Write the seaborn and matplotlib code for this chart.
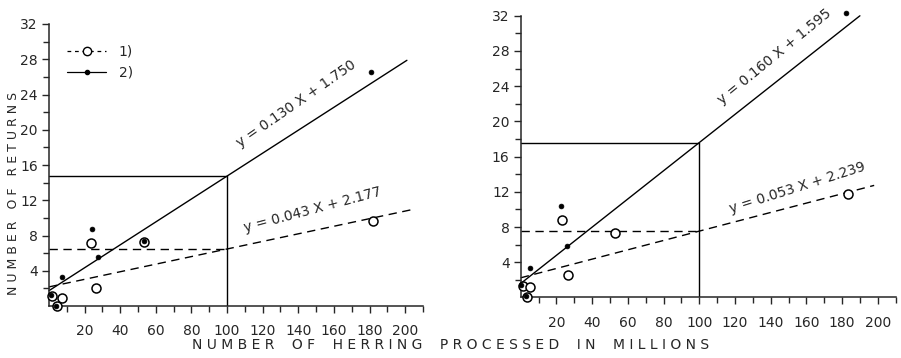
import matplotlib
matplotlib.use("Agg")
import numpy as np
import pandas as pd
import seaborn as sns
import matplotlib.pyplot as plt
from matplotlib.lines import Line2D

# left panel points
left_open_x = [1.9, 4.3, 7.3, 23.4, 26.4, 53.4, 182]
left_open_y = [1.1, 0.05, 0.9, 7.2, 2.1, 7.25, 9.7]
left_fill_x = [1.0, 4.0, 7.3, 24.2, 27.5, 53.2, 181]
left_fill_y = [1.3, 0.0, 3.25, 8.8, 5.55, 7.4, 26.5]

# right panel points
right_open_x = [1.5, 3.7, 5.4, 23.2, 26.4, 53, 183.5]
right_open_y = [1.3, 0.0, 1.16, 8.8, 2.5, 7.3, 11.7]
right_fill_x = [0.4, 3.0, 5.3, 22.5, 26, 182]
right_fill_y = [1.4, 0.2, 3.3, 10.4, 5.9, 32.3]

# regression lines: (slope, intercept, x end)
left_fit_open = (0.043, 2.177, 204)
left_fit_fill = (0.130, 1.750, 201)
right_fit_open = (0.053, 2.239, 198)
right_fit_fill = (0.160, 1.595, 190)

x_ref = 100
x_ticks = [20, 40, 60, 80, 100, 120, 140, 160, 180, 200]
y_ticks = [4, 8, 12, 16, 20, 24, 28, 32]

sns.set_style("ticks")
plt.rcParams["font.family"] = ["DejaVu Sans"]

DASH = (0, (6, 4))

fig = plt.figure(figsize=(9.01, 3.58), dpi=100)
ax_l = fig.add_axes([0.0544, 0.145, 0.415, 0.788])
ax_r = fig.add_axes([0.578, 0.169, 0.416, 0.787])


def fit_label(fit):
    return f"y = {fit[0]:.3f} X + {fit[1]:.3f}"


def draw_panel(ax, ox, oy, fx, fy, fit_o, fit_f, lab_o, lab_f):
    ax.set_xlim(0, 210)
    ax.set_ylim(0, 32)

    # fitted lines
    for fit, ls in [(fit_o, DASH), (fit_f, "-")]:
        xs = np.array([0, fit[2]])
        line_df = pd.DataFrame({"x": xs, "y": fit[0] * xs + fit[1]})
        sns.lineplot(data=line_df, x="x", y="y", ax=ax, color="black",
                     lw=1.0, linestyle=ls, clip_on=False)
        y_at = fit[0] * x_ref + fit[1]
        ax.plot([0, x_ref], [y_at, y_at], color="black", lw=1.0,
                linestyle=ls, clip_on=False)

    y_top = fit_f[0] * x_ref + fit_f[1]
    ax.plot([x_ref, x_ref], [0, y_top], color="black", lw=1.0)

    # points
    sns.scatterplot(x=ox, y=oy, ax=ax, marker="o", s=42, facecolor="white",
                    edgecolor="black", linewidth=1.1, clip_on=False, zorder=3)
    sns.scatterplot(x=fx, y=fy, ax=ax, marker="o", s=12, color="black",
                    edgecolor="black", linewidth=0.5, clip_on=False, zorder=4)

    # equation labels, rotated along lines
    fig.canvas.draw()
    for fit, pos in [(fit_f, lab_f), (fit_o, lab_o)]:
        p0 = ax.transData.transform((0, fit[1]))
        p1 = ax.transData.transform((100, fit[0] * 100 + fit[1]))
        ang = np.degrees(np.arctan2(p1[1] - p0[1], p1[0] - p0[0]))
        ax.text(pos[0], pos[1], fit_label(fit), rotation=ang + pos[2],
                rotation_mode="anchor", ha="center", va="center",
                fontsize=10)

    ax.set_xticks(x_ticks)
    ax.set_xticks(np.arange(10, 211, 10), minor=True)
    ax.set_yticks(y_ticks)
    ax.set_yticks(np.arange(2, 33, 2), minor=True)
    ax.tick_params(axis="both", which="major", labelsize=10, length=5,
                   width=1.0, pad=3)
    ax.tick_params(axis="both", which="minor", length=4, width=1.0)
    ax.tick_params(axis="x", which="both", direction="out", pad=8)
    sns.despine(ax=ax)
    for sp in ["left", "bottom"]:
        ax.spines[sp].set_linewidth(1.1)
    ax.set_xlabel("")
    ax.set_ylabel("")


draw_panel(ax_l, left_open_x, left_open_y, left_fill_x, left_fill_y,
           left_fit_open, left_fit_fill, (148, 10.9, 3), (139, 23.0, 2))
draw_panel(ax_r, right_open_x, right_open_y, right_fill_x, right_fill_y,
           right_fit_open, right_fit_fill, (155, 12.4, 3), (142, 27.4, 1))

handles = [
    Line2D([0], [0], color="black", lw=0.9, linestyle=(0, (3, 3)),
           marker="o", markersize=6, markerfacecolor="white",
           markeredgecolor="black"),
    Line2D([0], [0], color="black", lw=0.9, linestyle="-",
           marker="o", markersize=3, markerfacecolor="black"),
]
ax_l.legend(handles, ["1)", "2)"], loc="upper left",
            bbox_to_anchor=(0.015, 0.97), frameon=False, handlelength=2.8,
            fontsize=10, labelspacing=0.5, handletextpad=0.9)

fig.text(0.015, 0.46, "N U M B E R   O F   R E T U R N S", rotation=90,
         ha="center", va="center", fontsize=9)
fig.text(0.5, 0.035,
         "N U M B E R    O F    H E R R I N G    "
         "P R O C E S S E D    I N    M I L L I O N S",
         ha="center", va="center", fontsize=10)

fig.savefig("out.png", dpi=100)
